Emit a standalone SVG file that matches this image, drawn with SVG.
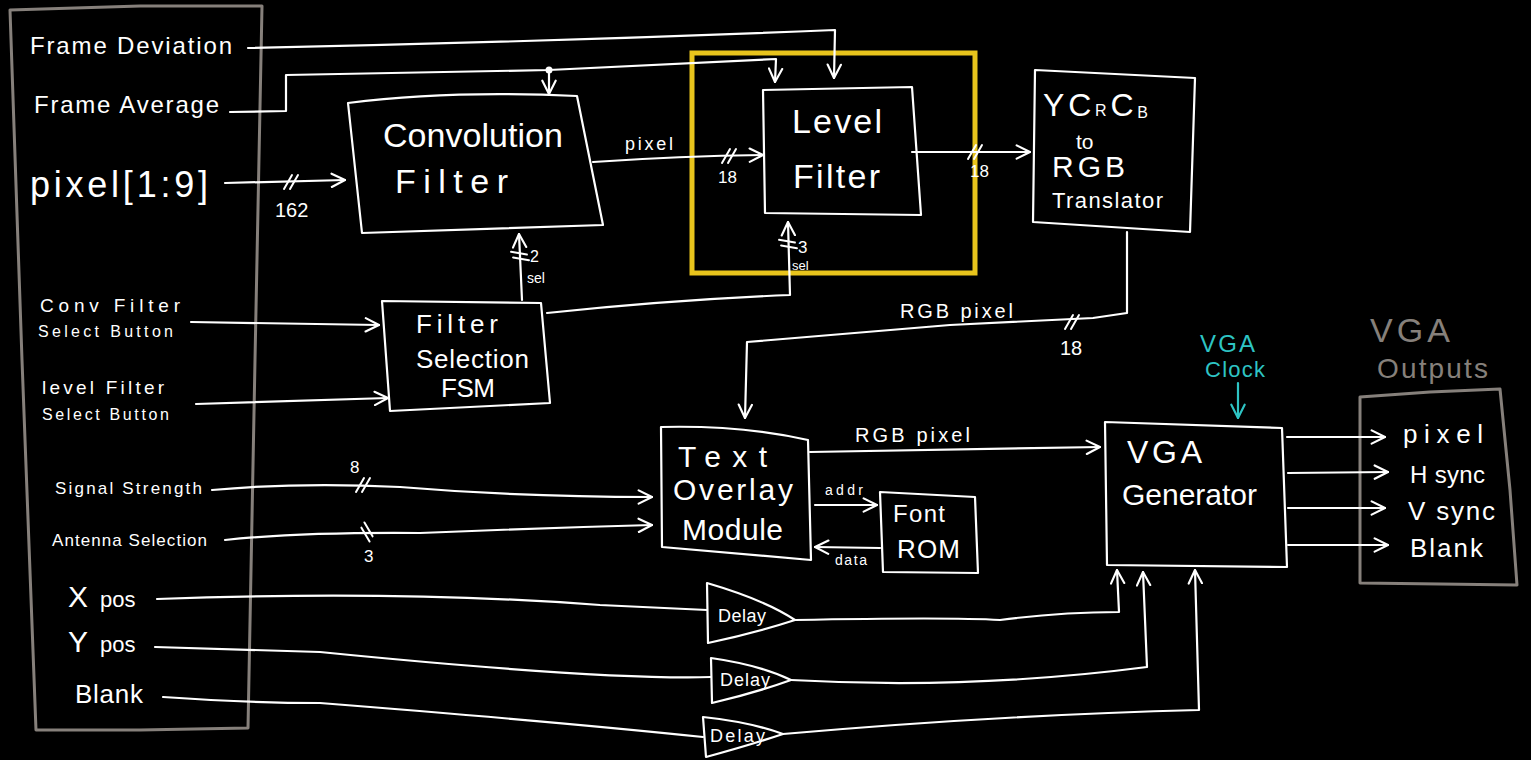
<svg xmlns="http://www.w3.org/2000/svg" xmlns:xlink="http://www.w3.org/1999/xlink" width="1531" height="760" viewBox="0 0 1531 760">
<defs>
<style>
text{font-family:"Liberation Sans",Arial,sans-serif;fill:#ffffff}
.w{fill:none;stroke:#ffffff;stroke-width:2.2;stroke-linecap:round;stroke-linejoin:round}
.g{fill:none;stroke:#86807b;stroke-width:3;stroke-linejoin:round}
.y{fill:none;stroke:#e8c41c;stroke-width:5}
.c{fill:none;stroke:#2ec4c4;stroke-width:2.2;stroke-linecap:round}
.gt{fill:#86807b}
.ct{fill:#2ec4c4}
.con{fill:none;stroke:#ffffff;stroke-width:2.2;stroke-linecap:round;stroke-linejoin:round;marker-end:url(#arr)}
.pl{fill:none;stroke:#ffffff;stroke-width:2.2;stroke-linecap:round;stroke-linejoin:round}
</style>
<marker id="arr" viewBox="0 0 12 12" refX="11" refY="6" markerWidth="16" markerHeight="16" markerUnits="userSpaceOnUse" orient="auto">
<path d="M1,1 L11,6 L1,11" fill="none" stroke="#ffffff" stroke-width="1.6" stroke-linecap="round" stroke-linejoin="round"/>
</marker>
<marker id="arrc" viewBox="0 0 12 12" refX="11" refY="6" markerWidth="16" markerHeight="16" markerUnits="userSpaceOnUse" orient="auto">
<path d="M1,1 L11,6 L1,11" fill="none" stroke="#2ec4c4" stroke-width="1.6" stroke-linecap="round" stroke-linejoin="round"/>
</marker>
<path id="bus" d="M-7,7 L1,-7 M-1,7 L7,-7" fill="none" stroke="#ffffff" stroke-width="2" stroke-linecap="round"/>
</defs>
<rect x="0" y="0" width="1531" height="760" fill="#000000"/>

<g id="inputs">
<path class="g" d="M10,10 L140,6 L262,6 L255,360 L248,728 L140,730 L36,730 L22,360 Z"/>
<text x="30" y="54" font-size="24" textLength="202">Frame Deviation</text>
<text x="34" y="113" font-size="24" textLength="185">Frame Average</text>
<text x="30" y="197" font-size="36" textLength="178">pixel[1:9]</text>
<text x="40" y="312" font-size="19" textLength="140">Conv Filter</text>
<text x="38" y="337" font-size="16" textLength="135">Select Button</text>
<text x="42" y="394" font-size="19" textLength="122">level Filter</text>
<text x="42" y="420" font-size="16" textLength="127">Select Button</text>
<text x="55" y="494" font-size="17" textLength="147">Signal Strength</text>
<text x="52" y="546" font-size="17" textLength="155">Antenna Selection</text>
<text x="68" y="607"><tspan font-size="30">X</tspan><tspan font-size="22" dx="12">pos</tspan></text>
<text x="68" y="652"><tspan font-size="30">Y</tspan><tspan font-size="22" dx="12">pos</tspan></text>
<text x="75" y="703" font-size="26" textLength="68">Blank</text>
</g>

<g id="convolution-filter">
<path class="w" d="M348,103 Q450,90 577,96 L603,225 L362,233 Z"/>
<text x="383" y="147" font-size="34" textLength="180">Convolution</text>
<text x="395" y="193" font-size="34" textLength="113">Filter</text>
</g>

<g id="level-filter">
<path class="w" d="M763,90 L912,87 L921,215 L765,213 Z"/>
<text x="792" y="133" font-size="34" textLength="90">Level</text>
<text x="793" y="188" font-size="34" textLength="87">Filter</text>
</g>

<g id="highlight">
<rect class="y" x="692" y="53" width="283" height="220"/>
</g>

<g id="ycrcb-translator">
<path class="w" d="M1035,70 L1195,78 L1190,232 L1033,222 Z"/>
<text x="1043" y="116" font-size="32" textLength="105">YC<tspan font-size="16">R</tspan>C<tspan font-size="16" dy="2">B</tspan></text>
<text x="1076" y="149" font-size="21">to</text>
<text x="1052" y="177" font-size="30" textLength="73">RGB</text>
<text x="1052" y="208" font-size="22" textLength="111">Translator</text>
</g>

<g id="filter-selection-fsm">
<path class="w" d="M382,301 L541,303 L550,403 L390,411 Z"/>
<text x="416" y="333" font-size="26" textLength="82">Filter</text>
<text x="416" y="368" font-size="26" textLength="113">Selection</text>
<text x="441" y="397" font-size="26" textLength="54">FSM</text>
</g>

<g id="text-overlay-module">
<path class="w" d="M661,427 Q740,425 808,440 L811,560 L662,547 Z"/>
<text x="678" y="467" font-size="30" textLength="89">Text</text>
<text x="673" y="500" font-size="30" textLength="120">Overlay</text>
<text x="682" y="540" font-size="30" textLength="101">Module</text>
</g>

<g id="font-rom">
<path class="w" d="M880,492 L975,497 L978,573 L883,572 Z"/>
<text x="893" y="522" font-size="24" textLength="52">Font</text>
<text x="897" y="558" font-size="26" textLength="63">ROM</text>
</g>

<g id="vga-generator">
<path class="w" d="M1105,422 L1282,428 L1287,567 L1107,565 Z"/>
<text x="1127" y="463" font-size="32" textLength="75">VGA</text>
<text x="1122" y="505" font-size="30" textLength="135">Generator</text>
</g>

<g id="vga-clock">
<text class="ct" x="1200" y="352" font-size="24" textLength="55">VGA</text>
<text class="ct" x="1205" y="377" font-size="22" textLength="60">Clock</text>
</g>

<g id="delay-x">
<path class="w" d="M707,583 Q765,600 795,620 Q755,633 708,643 Z"/>
<text x="718" y="622" font-size="18" textLength="48">Delay</text>
</g>
<g id="delay-y">
<path class="w" d="M711,658 Q760,665 791,680 Q755,693 712,703 Z"/>
<text x="720" y="686" font-size="18" textLength="50">Delay</text>
</g>
<g id="delay-blank">
<path class="w" d="M703,717 Q750,722 783,734 Q750,745 706,757 Z"/>
<text x="710" y="742" font-size="18" textLength="55">Delay</text>
</g>

<g id="vga-outputs">
<text class="gt" x="1370" y="342" font-size="34" textLength="80">VGA</text>
<text class="gt" x="1377" y="378" font-size="28" textLength="111">Outputs</text>
<path class="g" d="M1360,397 L1430,392 L1500,389 L1510,490 L1517,585 L1440,584 L1360,583 L1360,490 Z"/>
<text x="1403" y="443" font-size="26" textLength="80">pixel</text>
<text x="1410" y="483" font-size="24" textLength="75">H sync</text>
<text x="1408" y="520" font-size="26" textLength="87">V sync</text>
<text x="1410" y="557" font-size="26" textLength="73">Blank</text>
</g>

<g id="connectors">
<path class="con" d="M248,48 Q540,42 835,30 L834,78"/>
<path class="con" d="M230,112 L286,111 L286,75 L549,70 L776,59 L775,82"/>
<circle cx="549" cy="70" r="3.5" fill="#ffffff"/>
<path class="con" d="M549,70 L549,94"/>
<path class="con" d="M225,183 L345,180"/>
<use xlink:href="#bus" x="291" y="182"/>
<text x="275" y="217" font-size="20">162</text>
<path class="con" d="M593,162 Q680,156 763,155"/>
<text x="625" y="150" font-size="18" textLength="48">pixel</text>
<use xlink:href="#bus" x="729" y="156"/>
<text x="718" y="183" font-size="17">18</text>
<path class="con" d="M912,152 L1030,152"/>
<use xlink:href="#bus" x="975" y="152"/>
<text x="970" y="177" font-size="17">18</text>
<path class="con" d="M1127,232 L1127,313 L1093,318 L950,325 L747,342 L745,418"/>
<use xlink:href="#bus" x="1072" y="322"/>
<text x="900" y="318" font-size="20" textLength="113">RGB pixel</text>
<text x="1060" y="355" font-size="20">18</text>
<path class="con" d="M522,300 L519,234"/>
<use xlink:href="#bus" transform="translate(520,256) rotate(70)"/>
<text x="530" y="262" font-size="16">2</text>
<text x="527" y="283" font-size="14">sel</text>
<path class="con" d="M547,313 Q670,300 790,295 L788,222"/>
<use xlink:href="#bus" transform="translate(788,244) rotate(70)"/>
<text x="798" y="253" font-size="17">3</text>
<text x="792" y="270" font-size="13">sel</text>
<path class="con" d="M191,322 L379,325"/>
<path class="con" d="M196,404 L388,398"/>
<path class="con" d="M212,490 Q300,482 400,487 Q520,497 652,497"/>
<use xlink:href="#bus" x="363" y="485"/>
<text x="350" y="473" font-size="17">8</text>
<path class="con" d="M225,540 Q300,532 420,533 Q540,528 652,525"/>
<use xlink:href="#bus" transform="translate(367,532) rotate(-60)"/>
<text x="364" y="562" font-size="17">3</text>
<path class="con" d="M810,452 Q950,450 1100,447"/>
<text x="855" y="442" font-size="20" textLength="115">RGB pixel</text>
<path class="con" d="M815,505 L877,505"/>
<text x="825" y="495" font-size="14" textLength="38">addr</text>
<path class="con" d="M880,548 L815,547"/>
<text x="835" y="565" font-size="14" textLength="32">data</text>
<path class="c" d="M1238,383 L1238,418" marker-end="url(#arrc)"/>
<path class="pl" d="M157,599 Q400,590 600,605 L707,610"/>
<path class="con" d="M795,620 Q950,617 1000,620 Q1060,612 1119,612 L1117,570"/>
<path class="pl" d="M155,647 Q250,650 320,652 Q600,680 711,677"/>
<path class="con" d="M791,680 Q970,690 1147,667 L1143,572"/>
<path class="pl" d="M163,697 Q250,703 320,703 Q560,722 703,737"/>
<path class="con" d="M783,734 Q1000,715 1199,710 L1195,570"/>
<path class="con" d="M1287,437 L1385,437"/>
<path class="con" d="M1288,473 L1388,472"/>
<path class="con" d="M1288,508 L1385,508"/>
<path class="con" d="M1288,545 L1388,545"/>
</g>
</svg>
